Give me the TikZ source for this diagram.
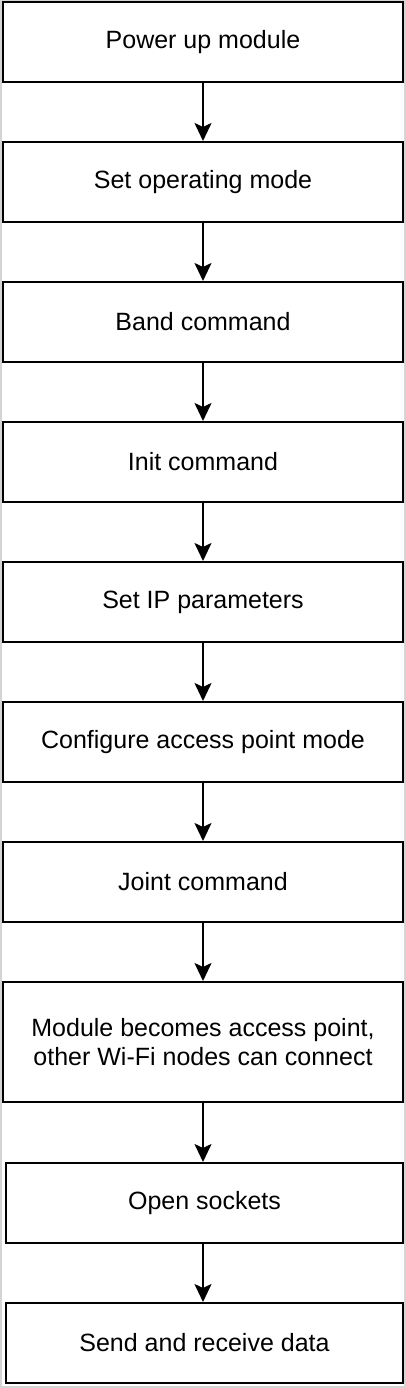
\documentclass[tikz,border=0pt]{standalone}
\usepackage{fontspec}
\setmainfont{Liberation Sans}
\usetikzlibrary{arrows.meta}

\begin{document}
\begin{tikzpicture}[x=1pt, y=-1pt,
		box_style/.style={rectangle,draw=black,line width=2pt,fill=white,minimum width=400pt,minimum height=80pt,align=center,inner sep=0pt,font=\fontsize{25}{29}\selectfont},
		box_style1/.style={box_style,minimum width=397pt},
		edge_style/.style={draw=black,line width=2pt,-{Stealth[length=18pt,width=17pt,inset=4pt]}}]

	\useasboundingbox (0,0) rectangle (406,1388);
	\draw[black!17,line width=2pt] (1,1) rectangle (405,1387);

		\node[box_style] (n0) at (203,42)  {Power up module};
		\node[box_style] (n1) at (203,182)  {Set operating mode};
		\node[box_style] (n2) at (203,322)  {Band command};
		\node[box_style] (n3) at (203,462)  {Init command};
		\node[box_style] (n4) at (203,602)  {Set IP parameters};
		\node[box_style] (n5) at (203,742)  {Configure access point mode};
		\node[box_style] (n6) at (203,882)  {Joint command};
		\node[box_style,minimum height=120pt] (n7) at (203,1042)  {Module becomes access point,\\other Wi-Fi nodes can connect};
		\node[box_style1] (n8) at (204.5,1203)  {Open sockets};
		\node[box_style1] (n9) at (204.5,1343)  {Send and receive data};

	    \draw[edge_style]  (n0) -- (n1);
    	\draw[edge_style]  (n1) -- (n2);
    	\draw[edge_style]  (n2) -- (n3);
    	\draw[edge_style]  (n3) -- (n4);
    	\draw[edge_style]  (n4) -- (n5);
    	\draw[edge_style]  (n5) -- (n6);
    	\draw[edge_style]  (n6) -- (n7);
    	\draw[edge_style]  (n7) -- (n8.north -| n7);
    	\draw[edge_style]  (n8.south -| n7) -- (n9.north -| n7);
		\end{tikzpicture}
\end{document}
